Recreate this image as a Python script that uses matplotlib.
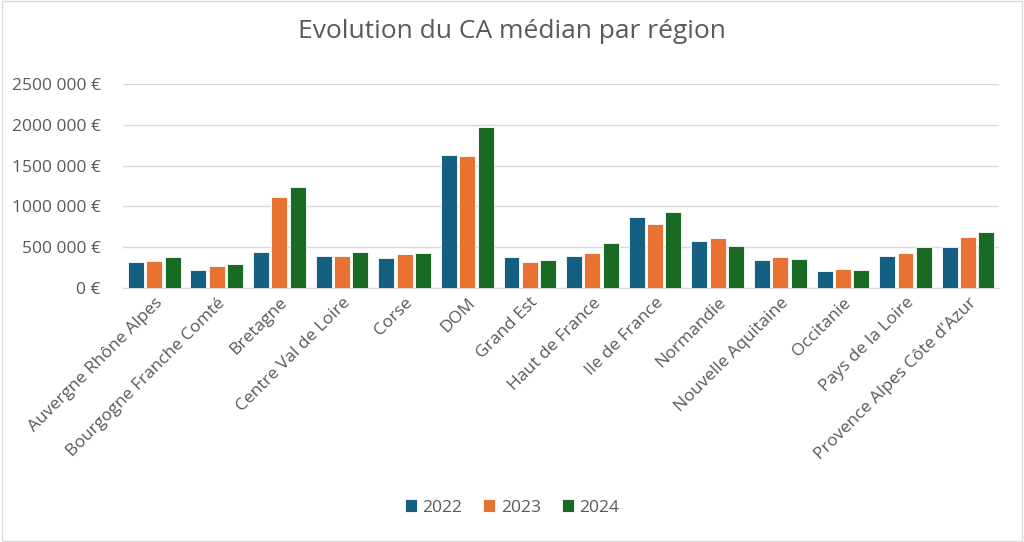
import numpy as np
import matplotlib
matplotlib.use("Agg")
import matplotlib.pyplot as plt
from matplotlib.ticker import FuncFormatter

plt.rcParams['font.family'] = ['Open Sans', 'DejaVu Sans']

regions = ["Auvergne Rhône Alpes", "Bourgogne Franche Comté", "Bretagne",
           "Centre Val de Loire", "Corse", "DOM", "Grand Est", "Haut de France",
           "Ile de France", "Normandie", "Nouvelle Aquitaine", "Occitanie",
           "Pays de la Loire", "Provence Alpes Côte d'Azur"]
years = ["2022", "2023", "2024"]
ca_2022 = [321000, 215000, 435000, 386000, 366000, 1630000, 374000, 390000,
           874000, 577000, 337000, 203000, 386000, 500000]
ca_2023 = [325000, 272000, 1114000, 394000, 415000, 1618000, 321000, 427000,
           780000, 614000, 378000, 228000, 423000, 626000]
ca_2024 = [378000, 289000, 1232000, 439000, 423000, 1972000, 337000, 549000,
           935000, 516000, 358000, 215000, 496000, 679000]
colors = ["#156082", "#E97132", "#196B24"]

fig = plt.figure(figsize=(10.24, 5.42), dpi=100)
ax = fig.add_axes([0.120, 0.469, 0.856, 0.376])

x = np.arange(len(regions))
pitch = 0.293
for i, (vals, yr) in enumerate(zip([ca_2022, ca_2023, ca_2024], years)):
    ax.bar(x + (i - 1) * pitch, vals, width=0.255, color=colors[i],
           edgecolor="white", linewidth=0.6, label=yr, zorder=3)

ax.set_xlim(-0.5, len(regions) - 0.5)
ax.set_ylim(0, 2500000)
ax.set_yticks(np.arange(0, 2500001, 500000))


def fmt(v, pos):
    if v == 0:
        return "0 €"
    return f"{int(v // 1000)} {int(v % 1000):03d} €"


ax.yaxis.set_major_formatter(FuncFormatter(fmt))
ax.grid(axis="y", color="#D9D9D9", linewidth=1, zorder=0)
for s in ["top", "right", "left"]:
    ax.spines[s].set_visible(False)
ax.spines["bottom"].set_color("#D9D9D9")
ax.tick_params(axis="both", length=0, colors="#595959", labelsize=12.5)
ax.tick_params(axis="y", pad=16)
ax.tick_params(axis="x", pad=5)
ax.set_xticks(x)
ax.set_xticklabels(regions, rotation=45, ha="right", rotation_mode="anchor")

fig.suptitle("Evolution du CA médian par région", y=0.965, fontsize=19,
             color="#595959")
fig.legend(loc="lower center", bbox_to_anchor=(0.5, 0.02), ncol=3,
           frameon=False, fontsize=12.5, labelcolor="#595959",
           handlelength=0.7, handleheight=0.7, handletextpad=0.3,
           columnspacing=1.2)

border = plt.Rectangle((0.002, 0.002), 0.996, 0.996, transform=fig.transFigure,
                       fill=False, edgecolor="#D9D9D9", linewidth=1)
fig.patches.append(border)

fig.savefig("out.png", dpi=100)
